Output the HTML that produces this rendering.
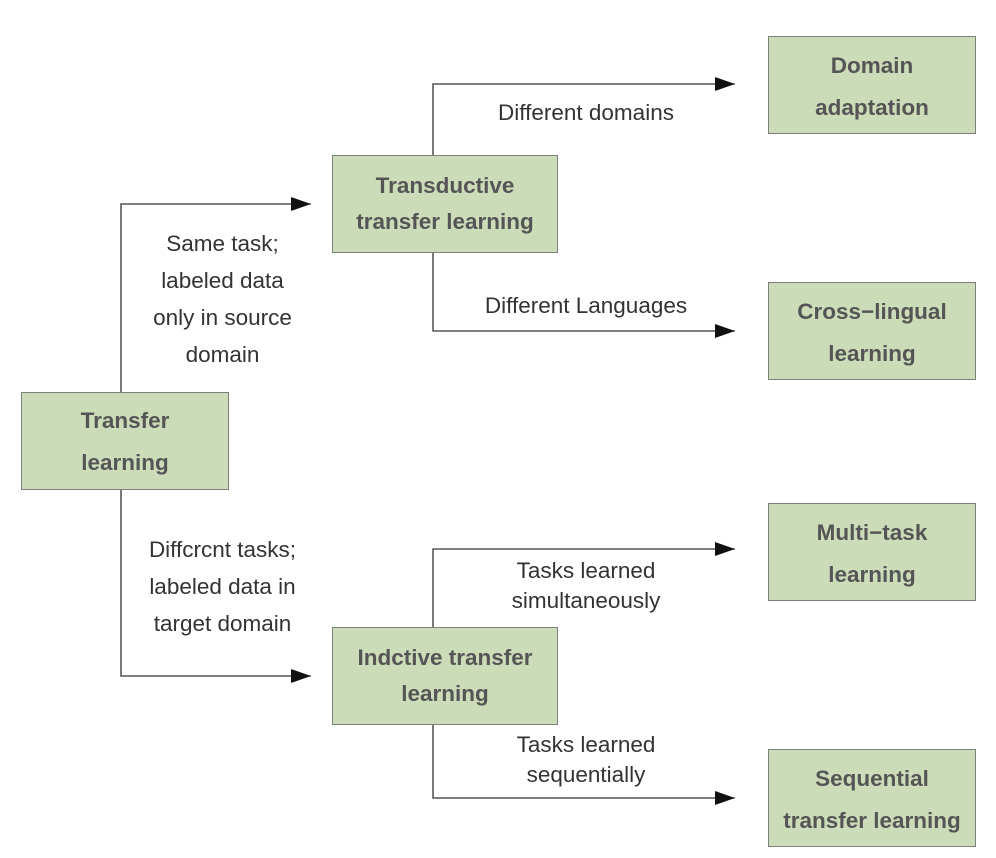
<!DOCTYPE html>
<html><head><style>
body{margin:0;background:#fff;width:996px;height:858px;overflow:hidden;position:relative;font-family:"Liberation Sans",sans-serif}
.b{position:absolute;background:#cddcb8;border:1.5px solid #7f7f7f;box-sizing:border-box;display:flex;align-items:center;justify-content:center;text-align:center;font-weight:bold;font-size:22.5px;line-height:42px;color:#555;white-space:nowrap}
.t{position:absolute;font-size:22.5px;color:#333;text-align:center;line-height:37px;white-space:nowrap}
</style></head><body>
<svg width="996" height="858" style="position:absolute;left:0;top:0">
<defs><marker id="a" markerWidth="20" markerHeight="14" refX="20" refY="7" orient="auto" markerUnits="userSpaceOnUse"><path d="M0,0 L20,7 L0,14z" fill="#111"/></marker></defs>
<g stroke="#333" stroke-width="1.3" fill="none">
<path d="M121,392 V204 H311" marker-end="url(#a)"/>
<path d="M121,490 V676 H311" marker-end="url(#a)"/>
<path d="M433,155 V84 H735" marker-end="url(#a)"/>
<path d="M433,253 V331 H735" marker-end="url(#a)"/>
<path d="M433,627 V549 H735" marker-end="url(#a)"/>
<path d="M433,725 V798 H735" marker-end="url(#a)"/>
</g></svg>
<div class="b" style="left:21px;top:392px;width:208px;height:98px;padding-top:2px">Transfer<br>learning</div>
<div class="b" style="left:332px;top:155px;width:226px;height:98px;line-height:36px">Transductive<br>transfer learning</div>
<div class="b" style="left:332px;top:627px;width:226px;height:98px;line-height:36px">Indctive transfer<br>learning</div>
<div class="b" style="left:768px;top:36px;width:208px;height:98px;padding-top:4px">Domain<br>adaptation</div>
<div class="b" style="left:768px;top:282px;width:208px;height:98px;padding-top:4px">Cross−lingual<br>learning</div>
<div class="b" style="left:768px;top:503px;width:208px;height:98px;padding-top:4px">Multi−task<br>learning</div>
<div class="b" style="left:768px;top:749px;width:208px;height:98px;padding-top:4px">Sequential<br>transfer learning</div>
<div class="t" style="left:130px;top:225px;width:185px">Same task;<br>labeled data<br>only in source<br>domain</div>
<div class="t" style="left:130px;top:531px;width:185px">Diffcrcnt tasks;<br>labeled data in<br>target domain</div>
<div class="t" style="left:450px;top:94px;width:272px">Different domains</div>
<div class="t" style="left:450px;top:287px;width:272px">Different Languages</div>
<div class="t" style="left:450px;top:556px;width:272px;line-height:30px">Tasks learned<br>simultaneously</div>
<div class="t" style="left:450px;top:730px;width:272px;line-height:30px">Tasks learned<br>sequentially</div>
</body></html>
